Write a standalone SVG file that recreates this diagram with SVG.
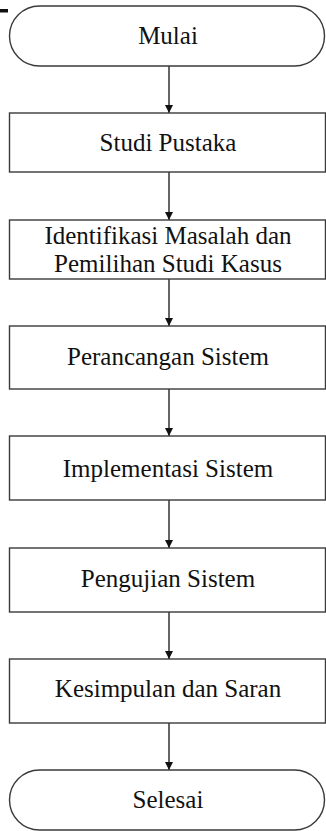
<svg xmlns="http://www.w3.org/2000/svg" width="326" height="831" viewBox="0 0 326 831">
<style>
.box{fill:#fff;stroke:#3a3a3a;stroke-width:1.4}
.t{font-family:"Liberation Serif","Times New Roman",serif;font-size:25px;fill:#111;text-anchor:middle}
.c{stroke:#333;stroke-width:1.5;fill:none;marker-end:url(#ah)}
</style>
<defs>
<marker id="ah" viewBox="0 0 10 10" refX="10" refY="5" markerWidth="8" markerHeight="8" markerUnits="userSpaceOnUse" orient="auto">
<path d="M0,0 L10,5 L0,10 Z" fill="#111"/>
</marker>
</defs>
<rect x="0" y="9" width="8" height="3.5" fill="#111"/>
<g id="connectors">
<line class="c" x1="169" y1="66" x2="169" y2="113"/>
<line class="c" x1="169" y1="172" x2="169" y2="220"/>
<line class="c" x1="169" y1="279" x2="169" y2="326"/>
<line class="c" x1="169" y1="389" x2="169" y2="436"/>
<line class="c" x1="169" y1="500" x2="169" y2="548"/>
<line class="c" x1="169" y1="612" x2="169" y2="659"/>
<line class="c" x1="169" y1="723" x2="169" y2="770"/>
</g>
<g id="mulai">
<rect class="box" x="9.5" y="6" width="315" height="60" rx="30" ry="30"/>
<text class="t" x="168" y="44">Mulai</text>
</g>
<g id="studi-pustaka">
<rect class="box" x="9.5" y="113" width="316" height="59"/>
<text class="t" x="168" y="151">Studi Pustaka</text>
</g>
<g id="identifikasi">
<rect class="box" x="9.5" y="220" width="316" height="59"/>
<text class="t" x="168" y="244">Identifikasi Masalah dan</text>
<text class="t" x="168" y="272">Pemilihan Studi Kasus</text>
</g>
<g id="perancangan">
<rect class="box" x="9.5" y="326" width="316" height="63"/>
<text class="t" x="168" y="365">Perancangan Sistem</text>
</g>
<g id="implementasi">
<rect class="box" x="9.5" y="436" width="316" height="64"/>
<text class="t" x="168" y="477">Implementasi Sistem</text>
</g>
<g id="pengujian">
<rect class="box" x="9.5" y="548" width="316" height="64"/>
<text class="t" x="168" y="587">Pengujian Sistem</text>
</g>
<g id="kesimpulan">
<rect class="box" x="9.5" y="659" width="316" height="64"/>
<text class="t" x="168" y="697">Kesimpulan dan Saran</text>
</g>
<g id="selesai">
<rect class="box" x="9.5" y="770" width="315" height="60" rx="30" ry="30"/>
<text class="t" x="168" y="808">Selesai</text>
</g>
</svg>
